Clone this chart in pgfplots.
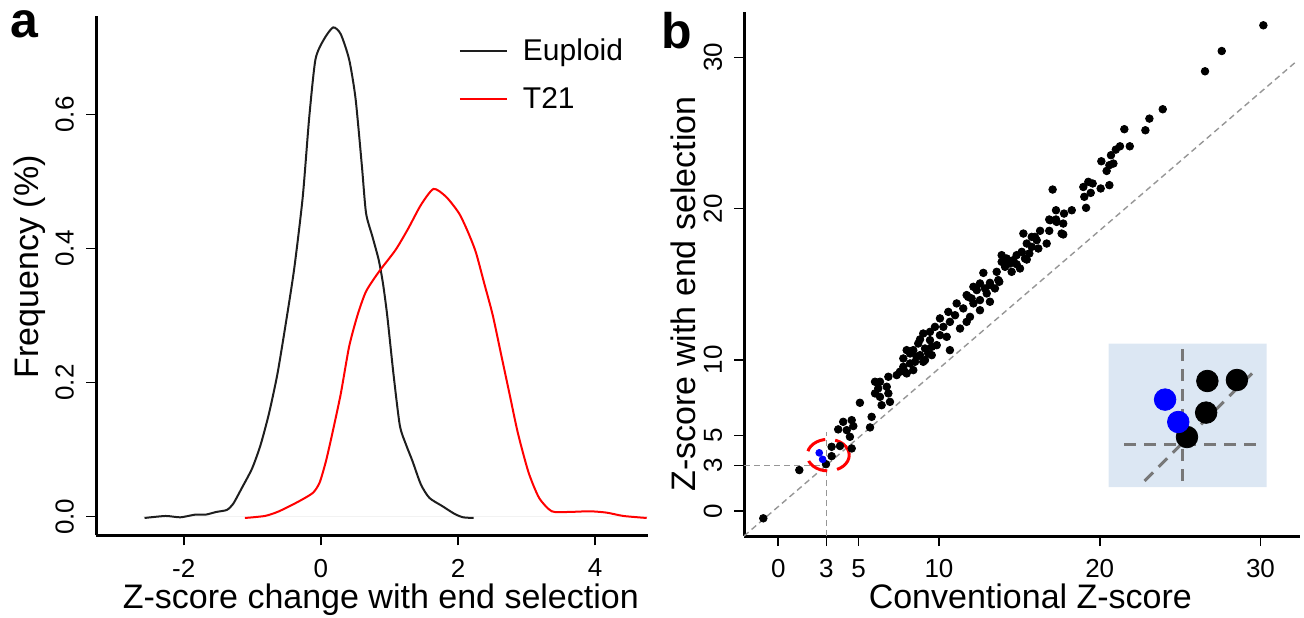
\documentclass[border=0pt]{standalone}
\usepackage{fontspec}
\setmainfont{Liberation Sans}
\usepackage{pgfplots}
\pgfplotsset{compat=1.18}
\definecolor{insetbg}{RGB}{220,231,243}
\definecolor{dashgray}{RGB}{150,150,150}
\definecolor{insetgray}{RGB}{120,120,120}
\definecolor{curveblack}{RGB}{30,30,30}

\pgfplotsset{
  rstyle/.style={
    scale only axis, anchor=south west,
    axis x line*=bottom, axis y line*=left,
    axis line style={line width=1.5pt, -},
    tick align=outside, major tick length=5pt,
    tick style={line width=0.8pt, black},
    ticklabel style={font=\fontsize{13}{13}\selectfont, inner sep=1pt},
    yticklabel style={rotate=90, anchor=south},
    xticklabel shift=5.6pt, yticklabel shift=4.8pt,
    label style={font=\fontsize{17}{17}\selectfont, inner sep=0pt},
    clip=false,
  }
}

\begin{document}
\begin{tikzpicture}
\path[use as bounding box] (0,0) rectangle (652pt,308.5pt);

% ---------------- panel a ----------------
\begin{axis}[rstyle,
  at={(48pt,40.8pt)}, width=276pt, height=259.7pt,
  xmin=-3.28, xmax=4.77, ymin=-0.028, ymax=0.747,
  xtick={-2,0,2,4}, xticklabels={-2,0,2,4},
  ytick={0,0.2,0.4,0.6}, yticklabels={0.0,0.2,0.4,0.6},
  xlabel={Z-score change with end selection},
  ylabel={Frequency (\%)},
  xlabel style={at={(axis description cs:0.516,0)}, anchor=base, yshift=-36.6pt},
  ylabel style={at={(axis description cs:-0.1196,0.517)}, anchor=center},
  legend style={draw=none, fill=none, at={(0.646,0.973)}, anchor=north west,
    font=\fontsize{15}{15}\selectfont, row sep=8pt,
    /tikz/every odd column/.append style={column sep=5.5pt}},
  legend cell align=left,
  legend image code/.code={\draw[#1] (0pt,0pt) -- (23.5pt,0pt);},
]
\addplot[gray!10, line width=0.6pt, forget plot] coordinates {(-2.6,0) (4.77,0)};
\addplot[curveblack, line width=1pt, smooth, tension=0.4] coordinates {
(-2.572,-0.002) (-2.265,0.001) (-2.049,-0.001) (-1.834,0.003) (-1.680,0.003)
(-1.526,0.007) (-1.372,0.010) (-1.280,0.019) (-1.157,0.042) (-1.003,0.072)
(-0.880,0.107) (-0.757,0.154) (-0.634,0.213) (-0.511,0.289) (-0.388,0.371)
(-0.265,0.477) (-0.172,0.594) (-0.080,0.682) (0.043,0.712) (0.178,0.730)
(0.289,0.720) (0.412,0.682) (0.505,0.624) (0.597,0.524) (0.658,0.453)
(0.751,0.418) (0.843,0.383) (0.905,0.348) (0.966,0.301) (1.058,0.213)
(1.151,0.136) (1.243,0.107) (1.335,0.083) (1.458,0.048) (1.582,0.028)
(1.766,0.016) (1.951,0.004) (2.074,-0.001) (2.228,-0.002)};
\addlegendentry{Euploid}
\addplot[red, line width=1pt, smooth, tension=0.4] coordinates {
(-1.108,-0.002) (-0.818,0.001) (-0.634,0.007) (-0.449,0.016) (-0.265,0.026)
(-0.111,0.036) (-0.018,0.051) (0.074,0.083) (0.166,0.124) (0.289,0.183)
(0.412,0.254) (0.535,0.301) (0.658,0.336) (0.843,0.365) (1.089,0.398)
(1.274,0.430) (1.458,0.465) (1.643,0.489) (1.828,0.477) (2.012,0.453)
(2.135,0.427) (2.258,0.395) (2.382,0.348) (2.505,0.301) (2.628,0.242)
(2.751,0.183) (2.874,0.124) (3.028,0.066) (3.182,0.028) (3.366,0.008)
(3.612,0.007) (3.920,0.008) (4.166,0.006) (4.412,0.001) (4.751,-0.002)};
\addlegendentry{T21}
\end{axis}

% ---------------- panel b ----------------
\begin{axis}[rstyle,
  at={(372pt,40.5pt)}, width=278pt, height=262pt,
  xmin=-2.13, xmax=32.46, ymin=-1.65, ymax=33.0,
  xtick={0,3,5,10,20,30}, xticklabels={0,3,5,10,20,30},
  ytick={0,3,5,10,20,30}, yticklabels={0,3,5,10,20,30},
  xlabel={Conventional Z-score},
  ylabel={Z-score with end selection},
  xlabel style={at={(axis description cs:0.515,0)}, anchor=base, yshift=-36.3pt},
  ylabel style={at={(axis description cs:-0.1097,0.462)}, anchor=center},
]
\addplot[dashgray, line width=0.7pt, dash pattern=on 3pt off 2pt] coordinates {(-2.13,-1.65) (32.2,29.7)};
\addplot[dashgray, line width=0.7pt, dash pattern=on 3pt off 2pt] coordinates {(-2.13,3) (3,3)};
\addplot[dashgray, line width=0.7pt, dash pattern=on 3pt off 2pt] coordinates {(3,-1.65) (3,5.25)};
\addplot[only marks, mark=*, mark size=1.9pt, black] coordinates {
(-0.93,-0.48) (1.31,2.71) (2.97,3.10) (3.32,3.63) (3.32,4.25) (3.84,4.30)
(4.57,4.14) (4.46,4.91) (3.73,5.40) (4.26,5.35) (4.67,5.62) (4.04,5.90)
(4.57,6.01) (5.71,5.53) (5.81,6.23) (5.08,7.16) (6.43,7.00) (6.95,7.22)
(6.33,7.55) (6.02,7.78) (6.85,7.78) (6.22,8.11) (6.75,8.22) (6.02,8.55)
(6.33,8.55) (6.85,8.88) (7.99,9.10) (7.57,9.21) (7.78,9.54) (8.51,9.87)
(9.13,9.98) (8.20,10.42) (8.82,10.31) (9.33,10.42) (8.71,11.08) (9.55,10.86)
(7.37,8.99) (7.88,9.21) (8.40,9.32) (8.20,9.76) (9.02,9.87) (7.78,10.09)
(8.61,10.20) (9.55,10.31) (7.99,10.64) (8.40,10.64) (10.68,10.64) (9.13,10.75)
(9.86,10.97) (8.82,11.35) (9.44,11.30) (10.48,11.52) (10.06,11.63) (9.02,11.74)
(9.44,11.85) (9.75,12.18) (10.27,12.18) (11.31,12.07) (10.68,12.51) (11.72,12.51)
(11.93,12.84) (10.06,12.74) (11.00,12.95) (12.55,13.28) (10.58,13.17) (11.51,13.40)
(11.10,13.73) (13.17,13.84) (12.14,13.73) (12.55,13.95) (11.82,14.16) (12.97,14.39)
(13.48,14.72) (12.35,14.61) (13.17,14.94) (12.55,15.05) (13.75,15.16) (12.76,15.75)
(13.59,15.82) (14.21,16.37) (13.90,16.92)
(12.03,14.06) (11.72,14.28) (12.86,14.72) (12.14,14.83) (13.17,15.09) (13.69,15.27)
(14.52,15.82) (14.11,16.15) (15.04,16.04) (14.83,16.32) (14.42,16.37) (13.90,16.48)
(14.62,16.59) (14.21,16.70) (15.46,16.63) (15.35,16.70) (14.83,16.92) (15.62,17.03)
(15.15,17.14) (16.18,17.36) (15.77,17.47) (15.46,17.69) (16.70,17.69) (16.08,17.91)
(15.77,18.13) (15.25,18.35) (17.63,18.35) (16.29,18.53) (16.86,18.53) (17.73,19.01)
(17.32,19.12) (16.91,19.23) (17.78,19.67) (17.07,21.26)
(15.97,18.13) (17.73,18.29) (17.28,19.28) (16.86,19.28) (17.28,19.89) (18.26,19.89)
(19.15,20.05) (19.04,20.78) (19.44,21.04) (18.98,21.43) (19.29,21.77) (19.56,21.66)
(20.06,21.33) (20.60,21.55) (20.43,22.49) (20.60,22.87) (20.85,22.98) (20.10,23.13)
(20.70,23.53) (21.00,23.90) (21.26,24.12) (21.87,24.12) (21.53,25.25) (22.84,25.18)
(23.09,25.95) (23.92,26.57) (26.55,29.08) (27.59,30.42) (30.18,32.12)};
\addplot[only marks, mark=*, mark size=1.7pt, blue, mark options={fill=blue, draw=blue}] coordinates {
(2.55,3.85) (2.76,3.42)};
\draw[red, line width=1.5pt, dash pattern=on 11pt off 5pt] (axis cs:3.11,3.70) ellipse [x radius=10.5pt, y radius=7.9pt];
\end{axis}

% ---------------- inset ----------------
\begin{axis}[
  at={(554.25pt,65pt)}, anchor=south west, scale only axis,
  width=79pt, height=71.65pt,
  xmin=0, xmax=158.1, ymin=0, ymax=143.3,
  hide axis, clip=false,
]
\addplot[fill=insetbg, draw=none] coordinates {(0,0) (158.1,0) (158.1,143.3) (0,143.3)} \closedcycle;
\addplot[insetgray, line width=1.5pt, dash pattern=on 6pt off 4pt] coordinates {(73.9,6) (73.9,138.6)};
\addplot[insetgray, line width=1.5pt, dash pattern=on 6pt off 4pt] coordinates {(15.5,42.9) (149,42.9)};
\addplot[insetgray, line width=1.5pt, dash pattern=on 6pt off 4pt] coordinates {(36.1,6) (147,117)};
\addplot[only marks, mark=*, mark size=5.4pt, black] coordinates {
(98.9,106) (128.5,107) (97.7,74.4) (78.5,50)};
\addplot[only marks, mark=*, mark size=5.4pt, blue, mark options={fill=blue, draw=blue}] coordinates {
(56.6,87.4) (69.8,65)};
\end{axis}

% panel letters
\node[anchor=base, font=\bfseries\fontsize{25}{25}\selectfont] at (12.25pt,289.6pt) {a};
\node[anchor=base, font=\bfseries\fontsize{25}{25}\selectfont] at (338.5pt,284.3pt) {b};
\end{tikzpicture}
\end{document}
